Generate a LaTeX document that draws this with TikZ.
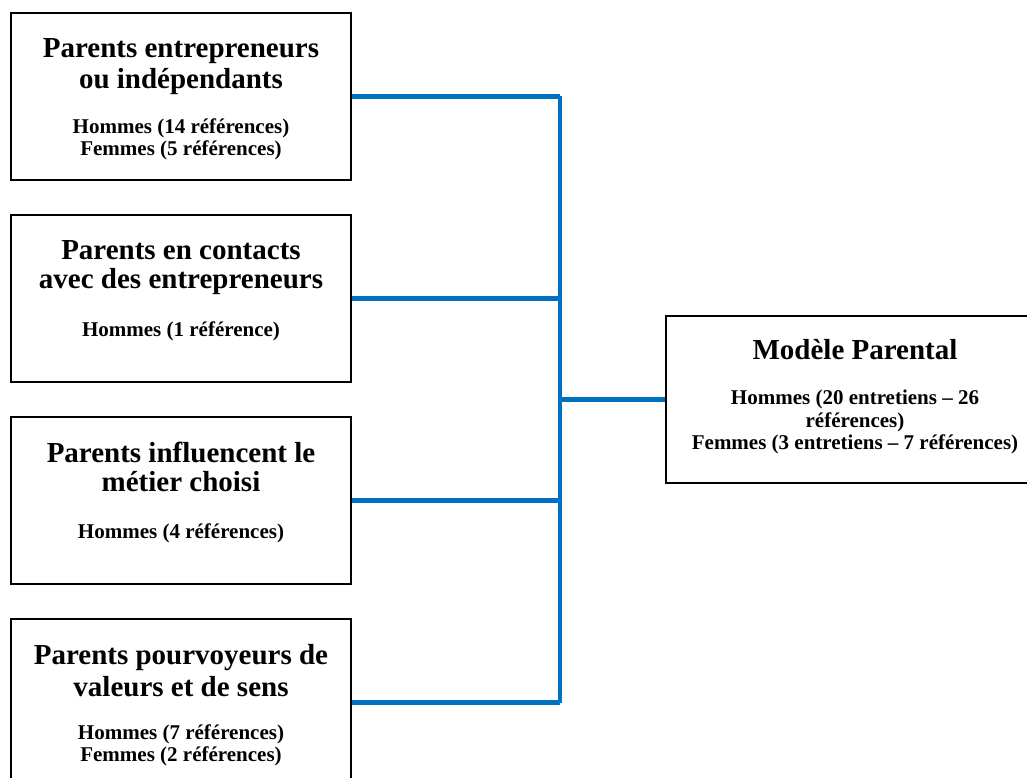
\documentclass[tikz,border=0pt]{standalone}
\usepackage{fontspec}
\setmainfont{Liberation Serif}
\usetikzlibrary{positioning}
\definecolor{linkblue}{RGB}{0,112,192}
\begin{document}
\begin{tikzpicture}[x = 1pt, y = -1pt,
    box/.style = {draw, line width = 1.6pt, minimum width = 340pt, minimum height = 167pt, inner sep = 0pt},
    title/.style = {inner sep = 0pt, align = center, font = \fontsize{29}{29}\selectfont\bfseries},
    wide title/.style = {title, font = \fontsize{29}{31.5}\selectfont\bfseries},
    count/.style = {inner sep = 0pt, align = center, font = \fontsize{21}{22.5}\selectfont\bfseries},
    link/.style = {draw = linkblue, line width = 4.5pt}]
    \clip (0,0) rectangle (1027,778);
    \node[box] (entr) at (181,96.5) {};
    \node[box] (contact) at (181,298.5) {};
    \node[box] (metier) at (181,500.5) {};
    \node[box] (valeurs) at (181,702.5) {};
    \node[box, minimum width = 378pt] (model) at (855,399.5) {};
    \node[wide title, below = 26pt of entr.north] (entrT) {Parents entrepreneurs\\ou indépendants};
    \node[count, below = 106pt of entr.north] (entrC) {Hommes (14 références)\\Femmes (5 références)};
    \node[title, below = 26pt of contact.north] (contactT) {Parents en contacts\\avec des entrepreneurs};
    \node[count, below = 107pt of contact.north] (contactC) {Hommes (1 référence)};
    \node[title, below = 26pt of metier.north] (metierT) {Parents influencent le\\métier choisi};
    \node[count, below = 107pt of metier.north] (metierC) {Hommes (4 références)};
    \node[wide title, below = 26pt of valeurs.north] (valeursT) {Parents pourvoyeurs de\\valeurs et de sens};
    \node[count, below = 106pt of valeurs.north] (valeursC) {Hommes (7 références)\\Femmes (2 références)};
    \node[title, below = 24pt of model.north] (modelT) {Modèle Parental};
    \node[count, below = 75pt of model.north] (modelC) {Hommes (20 entretiens – 26\\références)\\Femmes (3 entretiens – 7 références)};
    % branches vers le tronc commun
    \coordinate (spine) at (560,0);
    \draw[link] (entr.east) -- (entr.east -| spine);
    \draw[link] (contact.east) -- (contact.east -| spine);
    \draw[link] (metier.east) -- (metier.east -| spine);
    \draw[link] (valeurs.east) -- (valeurs.east -| spine);
    \draw[link] (entr.east -| spine) -- (valeurs.east -| spine);
    \draw[link] (model.west) -- (model.west -| spine);
\end{tikzpicture}
\end{document}
